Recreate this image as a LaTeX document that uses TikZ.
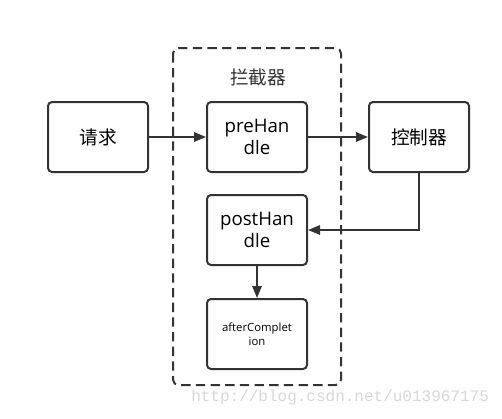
\documentclass[tikz,border=0pt]{standalone}
\usepackage{fontspec}
\setmainfont{Open Sans}
\newfontfamily\cjk{Noto Sans CJK SC}
\newfontfamily\wmfont{Liberation Mono}
\usetikzlibrary{arrows.meta, positioning}
\definecolor{boxline}{RGB}{51,51,51}
\definecolor{wmgray}{RGB}{215,215,215}

\begin{document}
\begin{tikzpicture}[x=0.75pt,y=-0.75pt,
    stage/.style={draw=boxline,line width=1.5pt,rounded corners=3pt,fill=white,
        minimum width=75pt,minimum height=52.5pt,align=center,font=\fontsize{14}{17}\selectfont},
    cjkstage/.style={stage,font=\cjk\fontsize{14}{17}\selectfont},
    flow/.style={draw=boxline,line width=1.5pt,-{Triangle[length=9pt,width=7pt]}}]
    \useasboundingbox (0,0) rectangle (502,418);

    % Interceptor frame
    \draw[boxline,line width=1.5pt,dash pattern=on 7pt off 4pt,rounded corners=4pt]
        (173,48) rectangle (341,385);
    \node[font=\cjk\fontsize{14}{17}\selectfont,text=boxline] (title) at (258,77) {拦截器};

    % Boxes
    \node[cjkstage] (req) at (98,137) {请求};
    \node[stage] (pre) at (257,137) {preHan\\dle};
    \node[cjkstage] (ctrl) at (419,137) {控制器};
    \node[stage] (post) at (257,230) {postHan\\dle};
    \node[stage,font=\fontsize{8.5}{10.5}\selectfont] (after) at (257,334) {afterComplet\\ion};

    % Arrows
    \draw[flow] (req) -- (pre);
    \draw[flow] (pre) -- (ctrl);
    \draw[flow] (ctrl.south) |- (post.east);
    \draw[flow] (post) -- (after);

    % Watermark
    \node[anchor=west,inner sep=0pt,font=\wmfont\fontsize{12}{14}\selectfont,text=wmgray] (mark) at (191,397)
        {http://blog.csdn.net/u013967175};
\end{tikzpicture}
\end{document}
